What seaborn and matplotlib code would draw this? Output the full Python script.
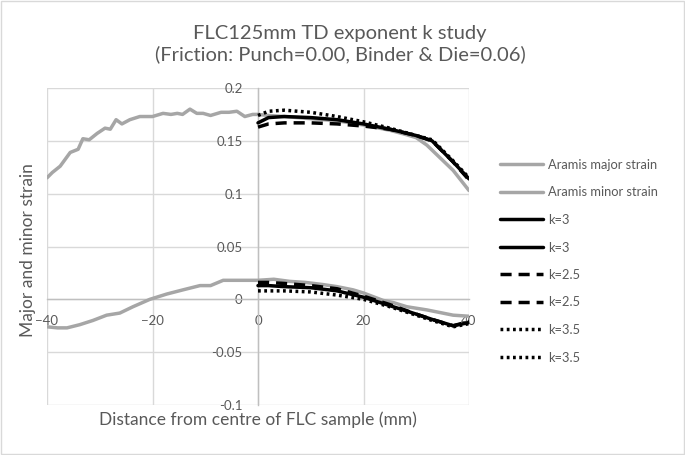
import matplotlib
matplotlib.use("Agg")
import matplotlib.pyplot as plt
import seaborn as sns
import pandas as pd
from matplotlib.lines import Line2D
from matplotlib.patches import Rectangle

# ---------------- data ----------------
aramis_major_x = [-40, -39, -37.5, -35.6, -34.1, -33.2, -32, -30.5, -29, -28, -26.9, -25.8,
                  -24.3, -22.4, -20, -18, -16.5, -15.3, -14.3, -12.9, -11.6, -10.4, -9, -7,
                  -5.5, -4, -2.5, -1, 0, 2, 5, 10, 15, 20, 25, 28, 30, 32, 34.5, 37, 40]
aramis_major = [0.115, 0.120, 0.126, 0.139, 0.142, 0.152, 0.151, 0.157, 0.162, 0.161, 0.170, 0.166,
                0.170, 0.173, 0.173, 0.176, 0.175, 0.176, 0.175, 0.180, 0.176, 0.176, 0.174, 0.177,
                0.177, 0.178, 0.173, 0.175, 0.175, 0.174, 0.173, 0.171, 0.169, 0.165, 0.160, 0.156,
                0.153, 0.146, 0.134, 0.122, 0.103]

aramis_minor_x = [-40, -38, -36.2, -33.8, -31.3, -28.7, -26.2, -23.7, -20.5, -17.3, -14.2, -11,
                  -9, -6.6, -3.4, 0, 3, 6, 9, 12.3, 15, 18, 20, 23.7, 25.6, 28.2, 32, 35, 37, 40]
aramis_minor = [-0.026, -0.027, -0.027, -0.024, -0.020, -0.015, -0.013, -0.007, 0.000, 0.005,
                0.009, 0.013, 0.013, 0.018, 0.018, 0.018, 0.019, 0.017, 0.016, 0.014, 0.012,
                0.009, 0.006, -0.001, -0.003, -0.007, -0.010, -0.013, -0.015, -0.016]

k_x = [0, 2, 5, 10, 15, 20, 25, 30, 33, 35, 37, 40]
k3_major = [0.167, 0.172, 0.173, 0.172, 0.170, 0.166, 0.161, 0.155, 0.150, 0.140, 0.130, 0.114]
k3_minor = [0.013, 0.013, 0.012, 0.011, 0.008, 0.002, -0.006, -0.014, -0.019, -0.022, -0.025, -0.022]
k25_major = [0.163, 0.166, 0.167, 0.167, 0.166, 0.164, 0.161, 0.155, 0.150, 0.140, 0.130, 0.113]
k25_minor = [0.016, 0.016, 0.015, 0.013, 0.010, 0.003, -0.005, -0.014, -0.019, -0.022, -0.025, -0.021]
k35_major = [0.174, 0.178, 0.179, 0.177, 0.173, 0.168, 0.162, 0.155, 0.151, 0.141, 0.131, 0.115]
k35_minor = [0.008, 0.008, 0.008, 0.007, 0.004, 0.000, -0.007, -0.015, -0.020, -0.023, -0.026, -0.023]

x_ticks = [-40, -20, 0, 20, 40]
y_ticks = [-0.1, -0.05, 0, 0.05, 0.1, 0.15, 0.2]
y_tick_labels = ["-0.1", "-0.05", "0", "0.05", "0.1", "0.15", "0.2"]

title_text = "FLC125mm TD exponent k study\n(Friction: Punch=0.00, Binder & Die=0.06)"
x_label = "Distance from centre of FLC sample (mm)"
y_label = "Major and minor strain"

# ---------------- style ----------------
sns.set_style("white")
plt.rcParams["font.family"] = ["Lato", "DejaVu Sans"]
TXT = "#595959"
GREY = "#A6A6A6"
GRID = "#D9D9D9"

fig = plt.figure(figsize=(6.85, 4.55), dpi=100)
ax = fig.add_axes([47 / 685, 1 - 405 / 455, (469 - 47) / 685, (405 - 88) / 455])

LW = 2.5
series = [
    ("Aramis major strain", aramis_major_x, aramis_major, GREY, "-"),
    ("Aramis minor strain", aramis_minor_x, aramis_minor, GREY, "-"),
    ("k=3", k_x, k3_major, "black", "-"),
    ("k=3", k_x, k3_minor, "black", "-"),
    ("k=2.5", k_x, k25_major, "black", (0, (3.2, 2.0))),
    ("k=2.5", k_x, k25_minor, "black", (0, (3.2, 2.0))),
    ("k=3.5", k_x, k35_major, "black", (0, (0.8, 1.0))),
    ("k=3.5", k_x, k35_minor, "black", (0, (0.8, 1.0))),
]

handles = []
for lab, xs, ys, col, ls in series:
    df = pd.DataFrame({"x": xs, "y": ys})
    sns.lineplot(data=df, x="x", y="y", ax=ax, color=col, linestyle=ls,
                 linewidth=LW, legend=False, sort=False, zorder=3)
    handles.append(Line2D([0], [0], color=col, linestyle=ls, linewidth=LW, label=lab))

ax.set_xlim(-40, 40)
ax.set_ylim(-0.1, 0.2)
ax.set_xticks(x_ticks)
ax.set_yticks(y_ticks)
ax.set_yticklabels(y_tick_labels)
ax.grid(True, color=GRID, linewidth=1.0, zorder=0)
ax.set_axisbelow(True)
for s in ["top", "right"]:
    ax.spines[s].set_visible(False)
ax.spines["left"].set_position(("data", 0))
ax.spines["bottom"].set_position(("data", 0))
for s in ["left", "bottom"]:
    ax.spines[s].set_color("#BFBFBF")
    ax.spines[s].set_linewidth(1.0)
    ax.spines[s].set_zorder(1)
ax.tick_params(axis="both", length=0, labelsize=9.5, labelcolor=TXT)
ax.tick_params(axis="y", pad=11)
ax.tick_params(axis="x", pad=11)
ax.set_xlabel("")
ax.set_ylabel("")

fig.text(258 / 685, 1 - 420 / 455, x_label, ha="center", va="center", fontsize=12.5, color=TXT)
fig.text(28 / 685, 1 - 250 / 455, y_label, ha="center", va="center", rotation=90,
         fontsize=12.5, color=TXT)
fig.text(340 / 685, 1 - 44 / 455, title_text, ha="center", va="center", fontsize=14.5,
         color=TXT, linespacing=1.25)

leg = fig.legend(handles=handles, loc="upper left", bbox_to_anchor=(500 / 685, 1 - 159 / 455),
                 frameon=False, fontsize=9.3, handlelength=3.3, handletextpad=0.4,
                 labelspacing=1.2, borderpad=0, borderaxespad=0)
for t in leg.get_texts():
    t.set_color(TXT)

fig.patches.append(Rectangle((0.002, 0.002), 0.996, 0.996, transform=fig.transFigure,
                             fill=False, edgecolor="#D9D9D9", linewidth=1.0))

fig.savefig("out.png", dpi=100)
